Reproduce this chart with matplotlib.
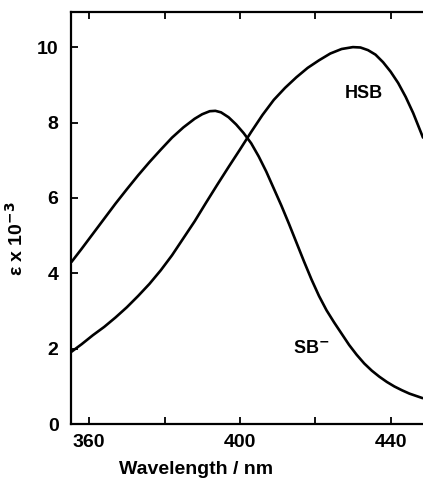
import matplotlib
matplotlib.use("Agg")
import matplotlib.pyplot as plt

# Absorption spectra (epsilon x 10^-3 vs wavelength in nm).
sb_wl = [355.3, 358, 361, 364, 367, 370, 373, 376, 379, 382, 385, 388, 390, 392,
         393.5, 395, 397, 399, 401, 403, 405, 407, 409, 411, 413, 415, 417, 419,
         421, 423, 425, 427, 429, 431, 433, 435, 437, 439, 441, 443, 445, 448.5]
sb_eps = [4.30, 4.65, 5.05, 5.45, 5.85, 6.23, 6.60, 6.95, 7.28, 7.60, 7.87, 8.10, 8.22, 8.30,
          8.31, 8.27, 8.14, 7.95, 7.72, 7.45, 7.10, 6.70, 6.25, 5.80, 5.32, 4.82, 4.32, 3.84,
          3.40, 3.02, 2.70, 2.40, 2.10, 1.84, 1.61, 1.42, 1.26, 1.12, 1.00, 0.90, 0.81, 0.69]

hsb_wl = [355.3, 358, 361, 364, 367, 370, 373, 376, 379, 382, 385, 388, 391, 394,
          397, 400, 403, 406, 409, 412, 415, 418, 421, 424, 427, 430, 432, 434,
          436, 438, 440, 442, 444, 446, 448.6]
hsb_eps = [1.92, 2.12, 2.36, 2.58, 2.83, 3.10, 3.40, 3.72, 4.08, 4.48, 4.93, 5.38, 5.87, 6.35,
           6.82, 7.28, 7.75, 8.20, 8.60, 8.92, 9.20, 9.45, 9.65, 9.83, 9.95, 10.00, 9.99, 9.92,
           9.80, 9.60, 9.35, 9.05, 8.68, 8.25, 7.60]

x_ticks = [360, 380, 400, 420, 440]
x_labels = ["360", "", "400", "", "440"]
y_ticks = [0, 2, 4, 6, 8, 10]

plt.rcParams["font.family"] = ["Liberation Sans", "DejaVu Sans"]
plt.rcParams["font.weight"] = "bold"

fig = plt.figure(figsize=(4.23, 4.82), dpi=100)
ax = fig.add_axes([0.168, 0.120, 0.832, 0.855])

ax.plot(sb_wl, sb_eps, color="black", linewidth=1.9, solid_capstyle="round")
ax.plot(hsb_wl, hsb_eps, color="black", linewidth=1.9, solid_capstyle="round")

ax.text(432.8, 8.78, "HSB", fontsize=13, fontweight="bold", ha="center", va="center")
ax.text(419.0, 2.0, "SB$^{\\mathbf{-}}$", fontsize=13, fontweight="bold", ha="center", va="center")

ax.set_xlim(355.2, 448.6)
ax.set_ylim(0, 10.93)
ax.set_xticks(x_ticks)
ax.set_xticklabels(x_labels)
ax.set_yticks(y_ticks)
ax.tick_params(axis="both", direction="in", length=5, width=1.3, labelsize=14, pad=7,
               top=True, right=False)
ax.tick_params(axis="y", pad=9)

for side in ["left", "bottom", "top"]:
    ax.spines[side].set_linewidth(1.6)
ax.spines["right"].set_visible(False)

ax.set_xlabel("Wavelength / nm", fontsize=14, fontweight="bold")
ax.xaxis.set_label_coords(0.355, -0.09)
ax.set_ylabel("ε x 10$^{\\mathbf{-3}}$", fontsize=14, fontweight="bold")
ax.yaxis.set_label_coords(-0.125, 0.45)

fig.savefig("out.png", dpi=100)
